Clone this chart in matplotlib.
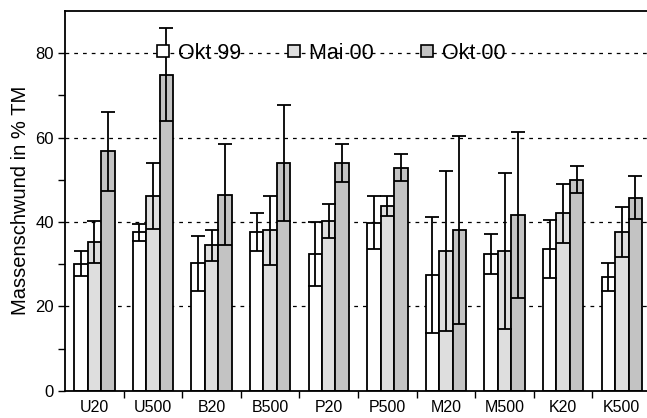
import numpy as np
import matplotlib
matplotlib.use('Agg')
import matplotlib.pyplot as plt
from matplotlib.lines import Line2D

plt.rcParams['font.family'] = ['Liberation Sans', 'DejaVu Sans']

# data
sites = ['U20', 'U500', 'B20', 'B500', 'P20', 'P500', 'M20', 'M500', 'K20', 'K500']
series = ['Okt 99', 'Mai 00', 'Okt 00']

okt99 = [30.1, 37.6, 30.2, 37.6, 32.3, 39.8, 27.4, 32.4, 33.5, 27.0]
okt99_err = [3.0, 2.0, 6.5, 4.6, 7.6, 6.3, 13.8, 4.7, 6.9, 3.3]

mai00 = [35.3, 46.2, 34.5, 38.0, 40.2, 43.7, 33.1, 33.1, 42.1, 37.6]
mai00_err = [5.0, 7.8, 3.7, 8.2, 4.1, 2.4, 18.9, 18.4, 7.0, 6.0]

okt00 = [56.7, 74.9, 46.5, 54.0, 54.0, 52.8, 38.0, 41.6, 50.0, 45.7]
okt00_err = [9.4, 11.0, 12.0, 13.8, 4.5, 3.2, 22.3, 19.7, 3.2, 5.1]

values = [okt99, mai00, okt00]
errors = [okt99_err, mai00_err, okt00_err]
colors = ['white', '#dedede', '#c3c3c3']

fig = plt.figure(figsize=(6.47, 4.18), dpi=100)
ax = fig.add_axes([65 / 647, 1 - 390.7 / 418, 582 / 647, 379.7 / 418])

x = np.arange(len(sites))
w = 0.23

for i in range(3):
    pos = x + (i - 1) * w
    ax.bar(pos, values[i], width=w, color=colors[i], edgecolor='black',
           linewidth=1.3, zorder=2)
    ax.errorbar(pos, values[i], yerr=errors[i], fmt='none', ecolor='black',
                elinewidth=1.3, capsize=4.8, capthick=1.3, zorder=3)

# axes styling
ax.set_xlim(-0.5, 9.43)
ax.set_ylim(0, 90)
ax.set_yticks([0, 20, 40, 60, 80])
ax.set_yticks([10, 30, 50, 70], minor=True)
ax.tick_params(axis='y', which='major', length=5, width=1, labelsize=12, pad=3)
ax.tick_params(axis='y', which='minor', length=5, width=1)

ax.set_xticks(x)
ax.set_xticklabels(sites, fontsize=11.5)
ax.tick_params(axis='x', which='major', length=0, pad=6.5)
ax.set_xticks(np.arange(0.5, 9, 1), minor=True)
ax.tick_params(axis='x', which='minor', length=5, width=1)

for y in [20, 40, 60, 80]:
    ax.axhline(y, color='black', linewidth=0.9, linestyle=(0, (3, 4)), zorder=1)

ax.spines['right'].set_visible(False)
for s in ['left', 'top', 'bottom']:
    ax.spines[s].set_linewidth(1.3)

ax.set_ylabel('Massenschwund in % TM', fontsize=14.5, labelpad=4)

handles = [Line2D([], [], linestyle='none', marker='s', markersize=8,
                  markerfacecolor=c, markeredgecolor='black', markeredgewidth=1.2)
           for c in colors]
ax.legend(handles, series, loc='center left', bbox_to_anchor=(0.1536, 0.889), ncol=3,
          frameon=False, fontsize=15.5, handlelength=0.8, handletextpad=0.3,
          columnspacing=2.07, borderpad=0, borderaxespad=0)

fig.savefig('out.png', dpi=100)
